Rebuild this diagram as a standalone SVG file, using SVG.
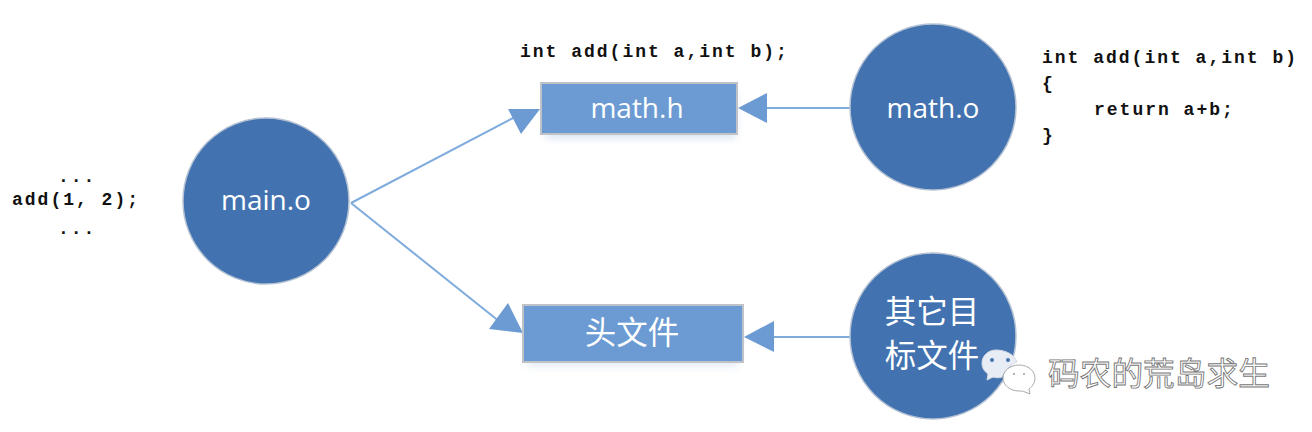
<svg xmlns="http://www.w3.org/2000/svg" width="1312" height="432" viewBox="0 0 1312 432">
<style>
.c{fill:#4273b0;stroke:#b4c2d4;stroke-width:1.5}
.r{fill:#6b9bd2;stroke:#bfc3c8;stroke-width:2}
.t{fill:#fff;font-family:"Open Sans","Noto Sans","Noto Sans CJK SC",sans-serif;font-size:28px;text-anchor:middle}
.z{fill:#fff;font-family:"Noto Sans CJK SC",sans-serif;font-size:31.5px;text-anchor:middle}
.m{fill:#111;font-family:"Liberation Mono",monospace;font-size:18px;font-weight:bold;letter-spacing:2px;white-space:pre}
.l{stroke:#7fabdd;stroke-width:2;fill:none}
.a{fill:#6b9bd2}
.w{fill:#fff;font-family:"Noto Sans CJK SC",sans-serif;font-size:31.7px;stroke:#777;stroke-width:.9px}
</style>
<defs><filter id="s" x="-10%" y="-20%" width="120%" height="150%"><feGaussianBlur stdDeviation="4"/></filter></defs>
<g id="connectors">
<path class="l" d="M351 203L515 117M351 203L500 322M850 108H765M850 337H772"/>
<polygon class="a" points="540,109 508,109 521,134"/>
<polygon class="a" points="523,333 489,329 508,303"/>
<polygon class="a" points="738,108 767,93 767,123"/>
<polygon class="a" points="744,337 774,321 774,352"/>
</g>
<g id="main-o"><circle class="c" cx="266" cy="201" r="83"/><text class="t" x="266" y="210">main.o</text></g>
<g id="math-h"><rect x="546" y="92" width="190" height="46" fill="#a9c2e0" opacity=".45" filter="url(#s)"/><rect class="r" x="541" y="83" width="196" height="51"/><text class="t" x="637" y="118">math.h</text></g>
<g id="math-o"><circle class="c" cx="933" cy="107" r="83"/><text class="t" x="933" y="118">math.o</text></g>
<g id="header"><rect x="528" y="314" width="210" height="52" fill="#a9c2e0" opacity=".35" filter="url(#s)"/><rect class="r" x="523" y="305" width="220" height="57"/><text class="z" x="632" y="344">头文件</text></g>
<g id="other-o"><circle class="c" cx="933" cy="336" r="83"/><text class="z" x="932" y="323">其它目</text><text class="z" x="932" y="367">标文件</text></g>
<g id="code">
<text class="m" x="520" y="57">int add(int a,int b);</text>
<text class="m" x="1042" y="63">int add(int a,int b)</text>
<text class="m" x="1042" y="89">{</text>
<text class="m" x="1094" y="115">return a+b;</text>
<text class="m" x="1042" y="141">}</text>
<text class="m" x="58" y="182">...</text>
<text class="m" x="12" y="205">add(1, 2);</text>
<text class="m" x="58" y="234">...</text>
</g>
<g id="watermark">
<path d="M996 350c-8 0-14 6-14 13 0 5 2 8 6 11l-1 6 6-3c3 1 6 1 9 0 4-8 9-13 15-15-2-7-11-12-21-12z" fill="#e8edf5" stroke="#d5dbe5"/>
<circle cx="992" cy="360" r="2" fill="#4273b0"/><circle cx="1008" cy="360" r="2" fill="#4273b0"/>
<path d="M1019 365c-9 0-16 6-16 13s7 13 16 13c2 0 4 0 6 1l5 2-1-5c4-3 6-7 6-11 0-7-7-13-16-13z" fill="#fff" stroke="#aaa"/>
<circle cx="1014" cy="374" r="1" fill="#999"/><circle cx="1024" cy="374" r="1" fill="#999"/>
<text class="w" x="1048" y="385">码农的荒岛求生</text>
</g>
</svg>
